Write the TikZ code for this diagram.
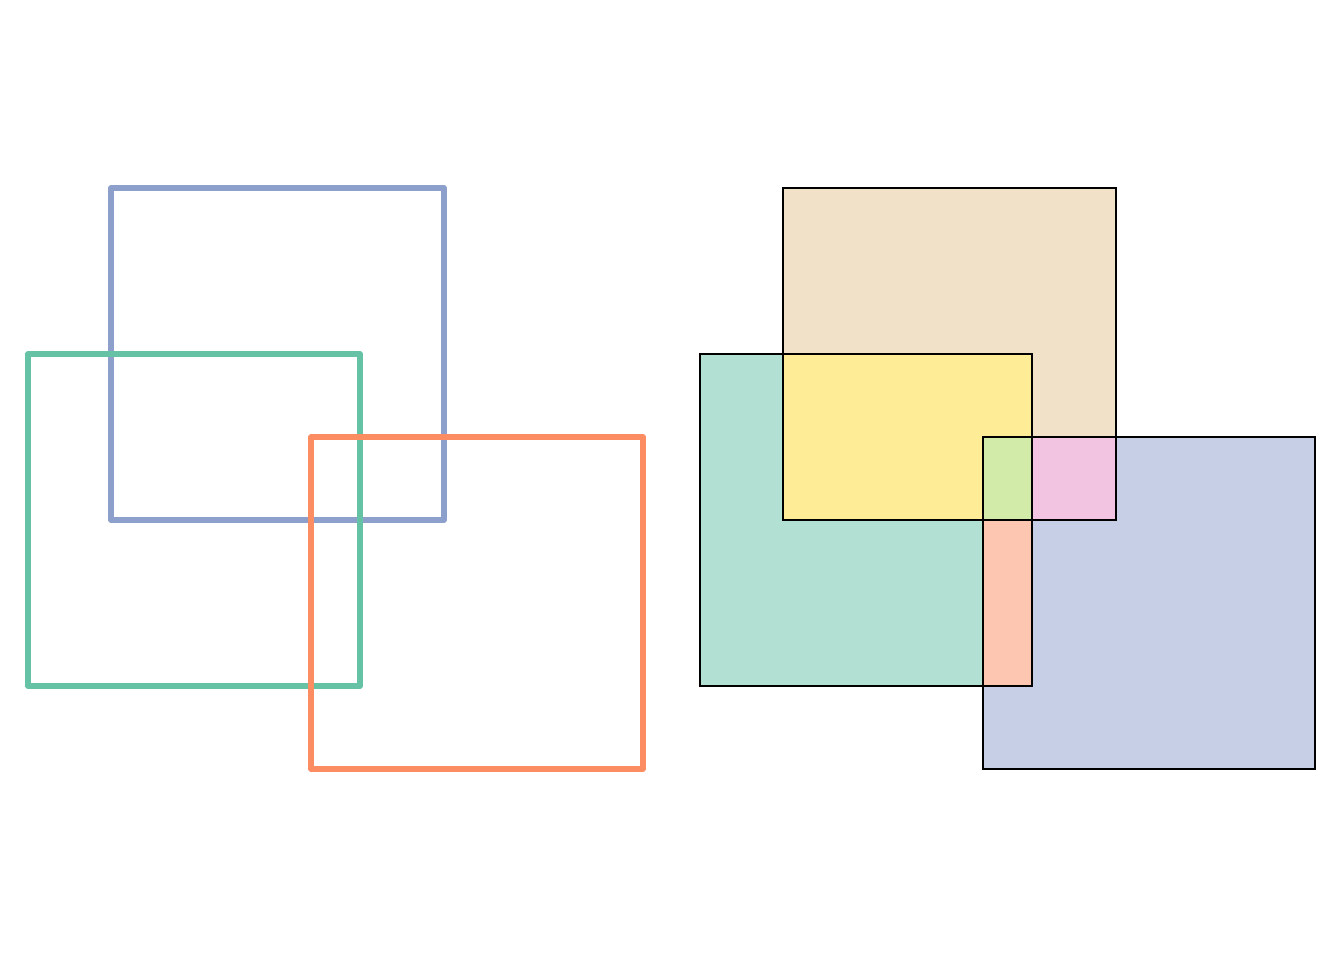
\documentclass[tikz,border=0pt]{standalone}
\usepackage{tikz}
\definecolor{sgreen}{HTML}{66C2A5}
\definecolor{sorange}{HTML}{FC8D62}
\definecolor{sblue}{HTML}{8DA0CB}
\definecolor{lgreen}{HTML}{B2E0D2}
\definecolor{lblue}{HTML}{C6CFE5}
\definecolor{ltan}{HTML}{F2E1C9}
\definecolor{lyellow}{HTML}{FFEC97}
\definecolor{llime}{HTML}{D2EBA9}
\definecolor{lpink}{HTML}{F3C4E1}
\definecolor{lsalmon}{HTML}{FDC6B0}

\begin{document}
\begin{tikzpicture}[x=1pt,y=-1pt,
  outline/.style={line width=5.5pt,line join=round},
  piece/.style={draw=black,line width=2pt}]
  \useasboundingbox (0,0) rectangle (1344,960);
  % left: outlines only
  \draw[outline,sblue] (111,188) rectangle (444,520);
  \draw[outline,sgreen] (28,354) rectangle (360,686);
  \draw[outline,sorange] (311,437) rectangle (643,769);
  % right: filled pieces
  \filldraw[piece,fill=ltan] (783,188) rectangle (1116,520);
  \filldraw[piece,fill=lgreen] (700,354) rectangle (1032,686);
  \filldraw[piece,fill=lblue] (983,437) rectangle (1315,769);
  \filldraw[piece,fill=lyellow] (783,354) rectangle (1032,520);
  \filldraw[piece,fill=llime] (983,437) rectangle (1032,520);
  \filldraw[piece,fill=lpink] (1032,437) rectangle (1116,520);
  \filldraw[piece,fill=lsalmon] (983,520) rectangle (1032,686);
\end{tikzpicture}
\end{document}
